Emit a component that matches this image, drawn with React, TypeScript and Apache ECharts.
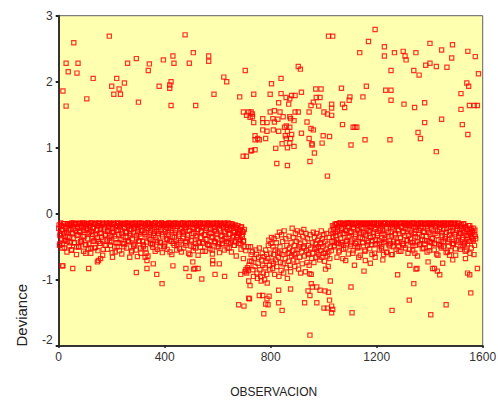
import React, { useEffect, useRef } from "react";
import * as echarts from "echarts";

const xTicks = [0, 400, 800, 1200, 1600];
const yTicks = [-2, -1, 0, 1, 2, 3];

// Isolated points above zero: [observation, deviance]
const upperPoints = [
[191,2.69],[57,2.59],[477,2.71],[508,2.44],[566,2.39],[566,2.31],[431,2.39],[395,2.33],[293,2.35],[260,2.28],[342,2.27],[435,2.28],[493,2.28],[28,2.28],[73,2.28],[36,2.15],[69,2.13],[338,2.17],[704,2.17],[130,2.05],[219,2.05],[623,2.07],[424,2.0],[634,2.0],[248,1.98],[200,1.93],[379,1.93],[419,1.95],[419,1.9],[228,1.89],[16,1.86],[208,1.81],[233,1.81],[586,1.81],[683,1.77],[106,1.74],[301,1.69],[28,1.63],[424,1.64],[517,1.64],[697,1.54],[717,1.54],[709,1.49],[722,1.46],[696,0.87],[708,0.87],[725,0.95],
[1194,2.79],[1018,2.69],[1034,2.69],[1169,2.61],[1229,2.53],[1401,2.58],[1486,2.56],[1445,2.48],[1136,2.44],[1267,2.44],[1300,2.46],[1348,2.44],[1544,2.46],[1229,2.39],[1307,2.39],[1311,2.33],[1483,2.36],[1572,2.38],[1385,2.25],[1401,2.28],[1425,2.23],[1465,2.22],[1254,2.17],[1340,2.17],[1360,2.1],[1584,2.12],[904,2.23],[912,2.19],[839,2.05],[803,1.97],[1540,1.98],[1547,1.93],[1161,1.93],[1067,1.9],[970,1.89],[990,1.89],[1234,1.87],[1254,1.87],[1518,1.82],[916,1.84],[839,1.82],[798,1.81],[736,1.81],[1148,1.77],[1099,1.77],[879,1.79],[892,1.79],[858,1.76],[872,1.74],[972,1.76],[986,1.76],[1096,1.72],[1254,1.72],[961,1.69],[830,1.68],[868,1.66],[952,1.64],[981,1.63],[1030,1.66],[1030,1.6],[1071,1.66],[1079,1.61],[1303,1.66],[1343,1.61],[1381,1.68],[1550,1.64],[1568,1.64],[1580,1.64],[1518,1.58],[798,1.54],[814,1.56],[835,1.54],[892,1.54],[904,1.54],[945,1.54],[1001,1.54],[1014,1.51],[1030,1.49],[726,1.54],[731,1.51],[731,1.47],[847,1.47],[872,1.47],[875,1.44],[770,1.44],[808,1.44],[827,1.43],[888,1.41],[736,1.38],[770,1.38],[786,1.38],[814,1.39],[937,1.39],[1381,1.38],[1445,1.43],[1523,1.35],[1071,1.35],[1111,1.31],[1118,1.31],[1125,1.31],[770,1.27],[786,1.25],[810,1.27],[830,1.25],[852,1.31],[859,1.33],[872,1.31],[863,1.25],[952,1.29],[961,1.27],[916,1.22],[879,1.2],[1356,1.23],[1544,1.2],[998,1.18],[1022,1.17],[741,1.18],[855,1.18],[781,1.14],[741,1.12],[757,1.12],[751,1.14],[859,1.14],[875,1.14],[945,1.14],[1156,1.12],[1250,1.12],[1365,1.14],[994,1.07],[843,1.06],[872,1.07],[888,1.02],[863,1.0],[956,1.06],[956,1.04],[1103,1.04],[819,0.99],[728,0.96],[741,0.97],[1425,0.94],[965,0.92],[823,0.76],[863,0.73],[948,0.79],[1014,0.57],
];

// Isolated points well below the band
const lowerPoints = [
[16,-0.79],[13,-0.79],[53,-0.83],[113,-0.83],[146,-0.73],[150,-0.71],[158,-0.68],[203,-0.66],[268,-0.66],[297,-0.65],[293,-0.89],[333,-0.83],[326,-0.66],[333,-0.71],[357,-0.76],[370,-0.92],[390,-1.06],[431,-0.79],[480,-0.83],[492,-0.95],[506,-0.73],[509,-0.84],[514,-0.83],[526,-0.83],[540,-0.99],[590,-0.92],[606,-0.76],[626,-0.95],[581,-0.76],[581,-0.71],[679,-1.38],[699,-1.4],[687,-0.92],[697,-0.68],[717,-1.02],[722,-1.09],[717,-1.28],
[948,-1.84],[774,-1.515],[843,-1.465],[1030,-1.5],[1001,-1.43],[1014,-1.43],[1034,-1.45],[1030,-1.4],[1022,-1.31],[974,-1.35],[928,-1.35],[830,-1.35],[781,-1.37],[790,-1.38],[786,-1.29],[794,-1.25],[757,-1.24],[770,-1.24],[720,-1.29],[948,-1.24],[941,-1.17],[830,-1.16],[875,-1.14],[953,-1.06],[957,-1.11],[974,-1.11],[986,-1.16],[1005,-1.17],[1018,-1.19],[1025,-1.02],[1103,-1.11],[1107,-1.5],[1258,-1.465],[1323,-1.31],[1340,-1.06],[1404,-1.53],[1462,-1.38],[1555,-1.2],[1279,-0.925],[1348,-0.84],[1352,-0.83],[1411,-0.83],[1418,-0.83],[1429,-0.87],[1438,-0.925],[1449,-0.75],[1325,-0.78],[1543,-0.9],[1551,-0.925],[1580,-0.83],[1152,-0.87],[1116,-0.78],[1132,-0.66],[1157,-0.71],[1176,-0.75],[1194,-0.66],[1223,-0.7],[1226,-0.62],[1259,-0.62],[1050,-0.66],[1072,-0.68],[1083,-0.71],[1394,-0.73],[1475,-0.63],[1487,-0.7],[1535,-0.68],[1567,-0.62],
];

// Central cluster, observations 700-1040
const middlePoints = [
[703,-0.88],[706,-0.85],[709,-0.9],[712,-0.82],[715,-0.86],[718,-0.78],[721,-0.72],[724,-0.5],[726,-0.62],[728,-0.72],[731,-0.58],[733,-0.85],[735,-0.95],[738,-0.68],[741,-0.8],[744,-0.55],[746,-0.62],[748,-0.9],[750,-0.98],[752,-0.75],[754,-0.66],[757,-0.52],[759,-0.85],[762,-0.95],[764,-1.02],[766,-0.7],[768,-0.6],[770,-0.78],[772,-0.9],[775,-0.65],[777,-1.0],[779,-0.82],[781,-0.55],[783,-0.72],[785,-0.92],[787,-1.05],[789,-0.68],[791,-0.48],[793,-0.4],[795,-0.78],[797,-0.85],[799,-0.6],[801,-0.45],[803,-0.36],[805,-0.72],[807,-0.83],[809,-0.5],[811,-0.62],[813,-0.38],[815,-0.92],[817,-0.55],[819,-0.7],[821,-0.44],[823,-0.8],[825,-0.34],[827,-0.58],[829,-0.66],[831,-0.95],[833,-0.28],[835,-0.5],[837,-0.74],[839,-0.86],[841,-0.32],[843,-0.62],[845,-0.42],[847,-0.76],[849,-0.9],[851,-0.26],[853,-0.56],[855,-0.68],[857,-0.38],[859,-0.82],[861,-0.48],[863,-0.98],[865,-0.6],[867,-0.72],[869,-0.34],[871,-0.52],[873,-0.78],[875,-0.88],[877,-0.44],[879,-0.64],[881,-0.22],[883,-0.56],[885,-0.36],[887,-0.7],[889,-0.48],[891,-0.8],[893,-0.3],[895,-0.6],[897,-0.42],[899,-0.72],[901,-0.26],[903,-0.54],[905,-0.84],[907,-0.38],[909,-0.66],[911,-0.46],[913,-0.9],[915,-0.28],[917,-0.58],[919,-0.76],[921,-0.34],[923,-0.5],[925,-0.24],[927,-0.64],[929,-0.42],[931,-0.88],[933,-0.3],[935,-0.56],[937,-0.74],[939,-0.38],[941,-0.62],[943,-0.48],[945,-0.78],[947,-0.91],[949,-0.32],[951,-0.52],[953,-0.92],[955,-0.68],[957,-0.44],[959,-0.6],[961,-0.28],[963,-0.74],[965,-0.36],[967,-0.54],[969,-0.46],[971,-0.66],[973,-0.3],[975,-0.58],[977,-0.4],[979,-0.5],[981,-0.62],[983,-0.34],[985,-0.7],[987,-0.44],[989,-0.56],[991,-0.26],[993,-0.66],[995,-0.38],[997,-0.5],[999,-0.6],[1001,-0.32],[1003,-0.72],[1005,-0.42],[1007,-0.84],[1009,-0.54],[1011,-0.3],[1013,-0.64],[1015,-0.46],[1017,-0.8],[1019,-0.58],[1021,-0.36],[1023,-0.68],[1025,-0.5],[1027,-0.26],[1029,-0.56],[1031,-0.42],[1033,-0.18],[1035,-0.3],[785,-0.62],[810,-0.75],[834,-0.6],[870,-0.6],[890,-0.62],[908,-0.5],[926,-0.52],[944,-0.6],[972,-0.52],[990,-0.46],[1006,-0.6],
];

// Dense band, left part: consecutive readings every bandStep observations from 0
const leftBand = [
-0.22,-0.48,-0.3,-0.18,-0.38,-0.26,-0.15,-0.52,-0.34,-0.2,-0.28,-0.42,-0.17,-0.24,-0.36,-0.15,-0.55,-0.3,
-0.2,-0.14,-0.44,-0.26,-0.16,-0.33,-0.22,-0.5,-0.15,-0.28,-0.19,-0.4,-0.14,-0.25,-0.35,-0.17,-0.6,-0.22,
-0.15,-0.3,-0.46,-0.18,-0.14,-0.27,-0.38,-0.21,-0.16,-0.52,-0.32,-0.14,-0.24,-0.18,-0.42,-0.15,-0.29,-0.2,
-0.36,-0.14,-0.54,-0.23,-0.17,-0.31,-0.15,-0.4,-0.26,-0.19,-0.14,-0.48,-0.33,-0.16,-0.22,-0.28,-0.15,-0.58,
-0.38,-0.18,-0.14,-0.25,-0.44,-0.2,-0.16,-0.3,-0.15,-0.35,-0.5,-0.22,-0.14,-0.27,-0.18,-0.41,-0.15,-0.24,
-0.33,-0.17,-0.56,-0.14,-0.29,-0.2,-0.46,-0.15,-0.37,-0.23,-0.16,-0.31,-0.14,-0.52,-0.26,-0.19,-0.42,-0.15,
-0.28,-0.17,-0.6,-0.34,-0.14,-0.22,-0.16,-0.39,-0.25,-0.15,-0.47,-0.3,-0.18,-0.14,-0.36,-0.21,-0.54,-0.15,
-0.27,-0.17,-0.43,-0.14,-0.32,-0.2,-0.16,-0.5,-0.24,-0.15,-0.38,-0.29,-0.14,-0.18,-0.58,-0.22,-0.15,-0.34,
-0.45,-0.17,-0.14,-0.26,-0.4,-0.19,-0.15,-0.31,-0.53,-0.16,-0.23,-0.14,-0.37,-0.28,-0.15,-0.2,-0.48,-0.17,
-0.33,-0.14,-0.25,-0.62,-0.15,-0.41,-0.21,-0.16,-0.3,-0.14,-0.52,-0.18,-0.35,-0.24,-0.15,-0.44,-0.14,-0.27,
-0.19,-0.57,-0.16,-0.32,-0.15,-0.39,-0.22,-0.14,-0.47,-0.28,-0.17,-0.15,-0.36,-0.55,-0.2,-0.14,-0.25,-0.42,
-0.16,-0.3,-0.15,-0.5,-0.23,-0.14,-0.34,-0.18,-0.45,-0.15,-0.27,-0.38,-0.16,-0.21,-0.52,-0.14,-0.31,-0.24,
-0.44,-0.15,-0.19,-0.36,-0.26,-0.48,-0.17,-0.22,-0.33,-0.28,-0.4,-0.3,-0.24,-0.46,-0.2,-0.35,-0.28,-0.5,
];

// Second layer of the left band (same stepping, shifted)
const leftBandSecond = [
-0.17,-0.33,-0.14,-0.24,-0.46,-0.19,-0.3,-0.15,-0.4,-0.22,-0.15,-0.35,-0.26,-0.16,-0.44,-0.18,-0.14,-0.29,
-0.37,-0.16,-0.23,-0.15,-0.5,-0.2,-0.32,-0.14,-0.27,-0.42,-0.17,-0.15,-0.34,-0.21,-0.14,-0.47,-0.25,-0.16,
-0.38,-0.15,-0.28,-0.19,-0.52,-0.14,-0.31,-0.22,-0.41,-0.16,-0.15,-0.26,-0.36,-0.18,-0.14,-0.45,-0.24,-0.3,
-0.16,-0.4,-0.15,-0.2,-0.33,-0.48,-0.14,-0.27,-0.17,-0.37,-0.23,-0.15,-0.43,-0.29,-0.16,-0.14,-0.34,-0.2,
-0.25,-0.5,-0.15,-0.32,-0.18,-0.14,-0.39,-0.26,-0.45,-0.16,-0.21,-0.15,-0.36,-0.28,-0.14,-0.42,-0.19,-0.3,
-0.15,-0.24,-0.38,-0.16,-0.47,-0.22,-0.14,-0.33,-0.18,-0.27,-0.15,-0.41,-0.2,-0.35,-0.14,-0.25,-0.5,-0.17,
-0.31,-0.15,-0.43,-0.23,-0.14,-0.37,-0.19,-0.28,-0.16,-0.46,-0.15,-0.33,-0.21,-0.14,-0.4,-0.26,-0.17,-0.3,
-0.15,-0.44,-0.24,-0.14,-0.35,-0.18,-0.49,-0.16,-0.27,-0.15,-0.39,-0.22,-0.32,-0.14,-0.2,-0.42,-0.17,-0.25,
-0.15,-0.36,-0.29,-0.14,-0.47,-0.19,-0.16,-0.34,-0.23,-0.41,-0.15,-0.27,-0.14,-0.31,-0.18,-0.44,-0.21,-0.16,
-0.37,-0.15,-0.26,-0.14,-0.4,-0.3,-0.17,-0.5,-0.22,-0.15,-0.33,-0.14,-0.24,-0.43,-0.19,-0.16,-0.36,-0.28,
-0.14,-0.45,-0.2,-0.15,-0.32,-0.25,-0.39,-0.17,-0.14,-0.48,-0.23,-0.3,-0.16,-0.35,-0.15,-0.42,-0.21,-0.27,
-0.14,-0.38,-0.18,-0.46,-0.16,-0.26,-0.15,-0.33,-0.41,-0.2,-0.14,-0.29,-0.37,-0.17,-0.24,-0.44,-0.15,-0.31,
-0.22,-0.4,-0.16,-0.34,-0.19,-0.28,-0.43,-0.21,-0.36,-0.18,-0.3,-0.25,-0.39,-0.2,-0.32,-0.27,-0.42,-0.24,
];

// Third layer of the left band: lower speckle, one reading every lowerStep observations
const leftLower = [
-0.46,-0.52,-0.41,-0.58,-0.49,-0.55,-0.44,-0.62,-0.5,-0.43,-0.57,-0.47,-0.53,-0.6,-0.42,-0.51,-0.56,-0.45,-0.63,-0.48,
-0.54,-0.41,-0.59,-0.5,-0.44,-0.56,-0.61,-0.46,-0.52,-0.43,-0.58,-0.49,-0.55,-0.42,-0.6,-0.47,-0.53,-0.64,-0.45,-0.51,
-0.57,-0.43,-0.5,-0.59,-0.46,-0.54,-0.41,-0.62,-0.48,-0.55,-0.44,-0.58,-0.52,-0.42,-0.6,-0.49,-0.56,-0.45,-0.63,-0.51,
-0.43,-0.57,-0.47,-0.53,-0.61,-0.44,-0.5,-0.59,-0.46,-0.55,-0.42,-0.52,-0.58,-0.48,-0.64,-0.45,-0.54,-0.41,-0.56,-0.5,
];

// Dense band, right part: consecutive readings every bandStep observations from 1035
const rightBand = [
-0.35,-0.2,-0.48,-0.28,-0.16,-0.4,-0.24,-0.15,-0.56,-0.32,-0.14,-0.22,-0.44,-0.17,-0.3,-0.15,-0.52,-0.26,
-0.14,-0.36,-0.19,-0.15,-0.46,-0.27,-0.14,-0.6,-0.21,-0.16,-0.34,-0.15,-0.42,-0.24,-0.14,-0.5,-0.29,-0.17,
-0.15,-0.38,-0.22,-0.14,-0.55,-0.31,-0.16,-0.15,-0.44,-0.25,-0.14,-0.36,-0.19,-0.62,-0.15,-0.28,-0.14,-0.47,
-0.21,-0.16,-0.33,-0.15,-0.41,-0.26,-0.14,-0.53,-0.18,-0.3,-0.15,-0.39,-0.14,-0.23,-0.58,-0.16,-0.35,-0.15,
-0.45,-0.27,-0.14,-0.2,-0.5,-0.17,-0.32,-0.15,-0.14,-0.43,-0.24,-0.57,-0.15,-0.37,-0.19,-0.14,-0.29,-0.48,
-0.16,-0.22,-0.15,-0.4,-0.14,-0.33,-0.54,-0.18,-0.26,-0.15,-0.44,-0.14,-0.3,-0.6,-0.21,-0.16,-0.36,-0.15,
-0.25,-0.47,-0.14,-0.19,-0.34,-0.15,-0.52,-0.28,-0.16,-0.14,-0.41,-0.23,-0.15,-0.56,-0.31,-0.17,-0.14,-0.38,
-0.26,-0.15,-0.46,-0.2,-0.14,-0.33,-0.63,-0.16,-0.24,-0.15,-0.42,-0.29,-0.14,-0.5,-0.18,-0.35,-0.15,-0.22,
-0.58,-0.14,-0.39,-0.27,-0.16,-0.15,-0.45,-0.21,-0.14,-0.32,-0.53,-0.17,-0.25,-0.15,-0.4,-0.3,-0.19,-0.5,
-0.22,-0.36,-0.16,-0.46,-0.28,-0.2,-0.55,-0.24,-0.33,-0.42,-0.18,-0.3,-0.52,-0.26,-0.38,-0.22,-0.48,-0.34,
];

const rightBandSecond = [
-0.24,-0.42,-0.16,-0.33,-0.15,-0.27,-0.45,-0.19,-0.14,-0.37,-0.22,-0.15,-0.3,-0.48,-0.16,-0.25,-0.14,-0.4,
-0.2,-0.15,-0.34,-0.28,-0.14,-0.43,-0.17,-0.23,-0.15,-0.38,-0.31,-0.14,-0.5,-0.18,-0.26,-0.15,-0.36,-0.21,
-0.14,-0.44,-0.29,-0.16,-0.15,-0.33,-0.23,-0.14,-0.41,-0.19,-0.27,-0.15,-0.47,-0.16,-0.35,-0.14,-0.24,-0.39,
-0.15,-0.3,-0.18,-0.14,-0.45,-0.22,-0.16,-0.37,-0.26,-0.15,-0.14,-0.32,-0.42,-0.2,-0.15,-0.28,-0.14,-0.49,
-0.17,-0.34,-0.15,-0.23,-0.4,-0.14,-0.3,-0.19,-0.44,-0.16,-0.26,-0.15,-0.36,-0.14,-0.21,-0.46,-0.27,-0.15,
-0.33,-0.14,-0.18,-0.41,-0.24,-0.16,-0.15,-0.38,-0.29,-0.14,-0.48,-0.2,-0.15,-0.35,-0.25,-0.14,-0.43,-0.17,
-0.31,-0.15,-0.22,-0.14,-0.39,-0.27,-0.16,-0.46,-0.15,-0.34,-0.19,-0.14,-0.28,-0.42,-0.15,-0.23,-0.37,-0.16,
-0.14,-0.45,-0.3,-0.18,-0.15,-0.26,-0.4,-0.14,-0.21,-0.49,-0.16,-0.33,-0.15,-0.24,-0.14,-0.38,-0.28,-0.17,
-0.43,-0.15,-0.32,-0.2,-0.14,-0.36,-0.25,-0.47,-0.16,-0.15,-0.29,-0.41,-0.19,-0.14,-0.34,-0.23,-0.3,-0.17,
-0.39,-0.26,-0.15,-0.44,-0.2,-0.33,-0.24,-0.37,-0.18,-0.28,-0.42,-0.22,-0.35,-0.27,-0.4,-0.31,-0.25,-0.38,
];

const rightLower = [
-0.5,-0.44,-0.58,-0.47,-0.54,-0.42,-0.61,-0.49,-0.56,-0.45,-0.52,-0.63,-0.43,-0.57,-0.48,-0.53,-0.41,-0.6,-0.46,-0.55,
-0.5,-0.44,-0.59,-0.47,-0.62,-0.42,-0.54,-0.49,-0.57,-0.45,-0.52,-0.6,-0.43,-0.56,-0.48,-0.64,-0.46,-0.53,-0.41,-0.58,
-0.5,-0.44,-0.55,-0.61,-0.47,-0.52,-0.42,-0.59,-0.49,-0.56,-0.45,-0.63,-0.43,-0.54,-0.48,-0.57,-0.46,-0.6,
];

const bandStep = 3;
const lowerStep = 9;
const leftStart = 0;
const rightStart = 1035;

const series = (s: number[], start: number, step: number, offset = 0) =>
  s.map((v, i) => [start + offset + i * step, v]);

const allPoints = [
  ...series(leftBand, leftStart, bandStep),
  ...series(leftBandSecond, leftStart, bandStep, 1.5),
  ...series(leftLower, leftStart, lowerStep, 4),
  ...middlePoints,
  ...series(rightBand, rightStart, bandStep),
  ...series(rightBandSecond, rightStart, bandStep, 1.5),
  ...series(rightLower, rightStart, lowerStep, 4),
  ...upperPoints,
  ...lowerPoints,
];

const W = 498;
const H = 403;

export default function App() {
  const ref = useRef<HTMLDivElement>(null);
  useEffect(() => {
    const chart = echarts.init(ref.current!, undefined, { renderer: "svg", width: W, height: H });
    const axisText = { color: "#333333", fontFamily: "Liberation Sans", fontSize: 12 };
    chart.setOption({
      animation: false,
      backgroundColor: "#ffffff",
      grid: {
        show: true,
        left: 58.7,
        right: 15.3,
        top: 15.7,
        bottom: 57.3,
        outerBoundsMode: "none",
        backgroundColor: "#ffffb0",
        borderColor: "#606060",
        borderWidth: 1,
      },
      graphic: [
        {
          type: "text",
          x: 21,
          y: 346.5,
          rotation: Math.PI / 2,
          style: {
            text: "Deviance",
            fill: "#222222",
            font: "15px 'Liberation Sans'",
            align: "left",
            verticalAlign: "middle",
          },
        },
      ],
      xAxis: {
        type: "value",
        min: 0,
        max: 1600,
        interval: 400,
        name: "OBSERVACION",
        nameLocation: "middle",
        nameGap: 40,
        nameTextStyle: { color: "#222222", fontFamily: "Liberation Sans", fontSize: 12, padding: [0, 0, 0, 6] },
        splitLine: { show: false },
        axisLine: { show: true, onZero: false, lineStyle: { color: "#333333", width: 2 } },
        axisTick: { show: true, length: 2, lineStyle: { color: "#222222", width: 2 } },
        axisLabel: { ...axisText, margin: 5, formatter: (v: number) => (xTicks.includes(v) ? String(v) : "") },
      },
      yAxis: {
        type: "value",
        min: -2,
        max: 3,
        interval: 1,
        splitLine: { show: false },
        axisLine: { show: true, onZero: false, lineStyle: { color: "#333333", width: 2 } },
        axisTick: { show: true, length: 3, lineStyle: { color: "#222222", width: 2 } },
        axisLabel: {
          ...axisText,
          margin: 6,
          formatter: (v: number) => (yTicks.includes(v) ? (v === -2 ? "{low|-2}" : String(v)) : ""),
          rich: { low: { ...axisText, padding: [0, 0, 11, 0] } },
        },
      },
      series: [
        {
          type: "scatter",
          data: allPoints,
          symbol: "rect",
          symbolSize: 4.2,
          silent: true,
          clip: false,
          itemStyle: { color: "rgba(255,0,0,0)", borderColor: "#ff0000", borderWidth: 1.2 },
        },
      ],
    });
    return () => chart.dispose();
  }, []);
  return <div ref={ref} style={{ position: "fixed", left: 0, top: 0, width: W, height: H }} />;
}
